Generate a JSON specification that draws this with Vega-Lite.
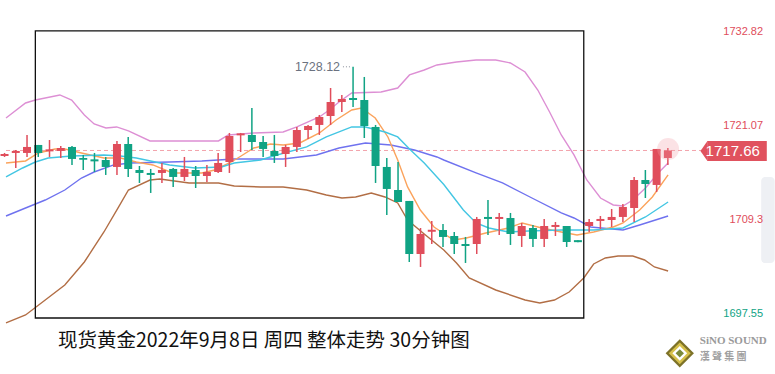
{
  "$schema": "https://vega.github.io/schema/vega-lite/v6.json",
  "width": 775,
  "height": 374,
  "autosize": {"type": "fit", "contains": "padding"},
  "padding": 0,
  "background": "white",
  "config": {"view": {"stroke": null}},
  "resolve": {"scale": {"color": "independent"}},
  "datasets": {
    "candles": [
      {"i":0,"o":1716.97,"h":1717.35,"l":1716.85,"c":1717.22,"dir":"up"},
      {"i":1,"o":1717.35,"h":1717.72,"l":1715.47,"c":1717.60,"dir":"up"},
      {"i":2,"o":1717.35,"h":1719.60,"l":1716.85,"c":1718.10,"dir":"up"},
      {"i":3,"o":1718.35,"h":1718.35,"l":1716.85,"c":1717.35,"dir":"down"},
      {"i":4,"o":1717.55,"h":1718.97,"l":1716.85,"c":1717.80,"dir":"up"},
      {"i":5,"o":1717.60,"h":1718.22,"l":1716.72,"c":1717.97,"dir":"up"},
      {"i":6,"o":1718.10,"h":1718.22,"l":1715.85,"c":1716.60,"dir":"down"},
      {"i":7,"o":1716.72,"h":1717.10,"l":1715.22,"c":1716.50,"dir":"down"},
      {"i":8,"o":1716.55,"h":1717.35,"l":1714.97,"c":1716.30,"dir":"down"},
      {"i":9,"o":1716.47,"h":1716.85,"l":1714.60,"c":1715.60,"dir":"down"},
      {"i":10,"o":1715.60,"h":1718.85,"l":1714.60,"c":1718.47,"dir":"up"},
      {"i":11,"o":1718.47,"h":1719.35,"l":1714.35,"c":1715.35,"dir":"down"},
      {"i":12,"o":1715.22,"h":1715.72,"l":1713.60,"c":1714.85,"dir":"down"},
      {"i":13,"o":1714.85,"h":1715.35,"l":1712.35,"c":1714.60,"dir":"down"},
      {"i":14,"o":1714.85,"h":1716.10,"l":1713.60,"c":1715.22,"dir":"up"},
      {"i":15,"o":1715.35,"h":1715.47,"l":1713.10,"c":1714.35,"dir":"down"},
      {"i":16,"o":1714.35,"h":1716.85,"l":1713.85,"c":1715.35,"dir":"up"},
      {"i":17,"o":1715.22,"h":1715.72,"l":1712.97,"c":1714.47,"dir":"down"},
      {"i":18,"o":1714.47,"h":1715.85,"l":1713.72,"c":1714.97,"dir":"up"},
      {"i":19,"o":1714.97,"h":1717.35,"l":1714.85,"c":1716.10,"dir":"up"},
      {"i":20,"o":1716.22,"h":1719.85,"l":1714.85,"c":1719.47,"dir":"up"},
      {"i":21,"o":1719.55,"h":1719.85,"l":1717.47,"c":1719.80,"dir":"up"},
      {"i":22,"o":1719.60,"h":1722.97,"l":1717.72,"c":1718.72,"dir":"down"},
      {"i":23,"o":1718.72,"h":1719.47,"l":1716.85,"c":1717.85,"dir":"down"},
      {"i":24,"o":1717.60,"h":1719.60,"l":1716.10,"c":1716.97,"dir":"down"},
      {"i":25,"o":1717.22,"h":1718.35,"l":1715.60,"c":1718.10,"dir":"up"},
      {"i":26,"o":1718.10,"h":1720.60,"l":1717.47,"c":1720.22,"dir":"up"},
      {"i":27,"o":1720.22,"h":1720.85,"l":1719.10,"c":1720.72,"dir":"up"},
      {"i":28,"o":1720.85,"h":1722.10,"l":1719.60,"c":1721.85,"dir":"up"},
      {"i":29,"o":1721.97,"h":1725.47,"l":1720.85,"c":1723.72,"dir":"up"},
      {"i":30,"o":1723.72,"h":1724.60,"l":1722.47,"c":1724.10,"dir":"up"},
      {"i":31,"o":1724.22,"h":1728.12,"l":1723.10,"c":1723.97,"dir":"down"},
      {"i":32,"o":1723.97,"h":1726.85,"l":1719.22,"c":1720.72,"dir":"down"},
      {"i":33,"o":1720.60,"h":1720.85,"l":1713.60,"c":1715.72,"dir":"down"},
      {"i":34,"o":1715.60,"h":1716.72,"l":1709.60,"c":1712.85,"dir":"down"},
      {"i":35,"o":1712.72,"h":1716.22,"l":1711.22,"c":1711.22,"dir":"down"},
      {"i":36,"o":1711.35,"h":1711.35,"l":1703.72,"c":1704.72,"dir":"down"},
      {"i":37,"o":1704.72,"h":1707.97,"l":1703.10,"c":1707.22,"dir":"up"},
      {"i":38,"o":1707.50,"h":1708.85,"l":1705.97,"c":1707.75,"dir":"up"},
      {"i":39,"o":1707.72,"h":1708.47,"l":1705.60,"c":1706.85,"dir":"down"},
      {"i":40,"o":1706.97,"h":1707.47,"l":1704.72,"c":1705.97,"dir":"down"},
      {"i":41,"o":1705.97,"h":1706.85,"l":1703.60,"c":1705.72,"dir":"down"},
      {"i":42,"o":1705.97,"h":1709.35,"l":1704.72,"c":1709.10,"dir":"up"},
      {"i":43,"o":1709.35,"h":1711.47,"l":1707.10,"c":1709.10,"dir":"down"},
      {"i":44,"o":1709.10,"h":1709.85,"l":1707.10,"c":1709.35,"dir":"up"},
      {"i":45,"o":1709.22,"h":1709.85,"l":1705.85,"c":1707.22,"dir":"down"},
      {"i":46,"o":1706.97,"h":1708.60,"l":1705.60,"c":1708.22,"dir":"up"},
      {"i":47,"o":1707.97,"h":1708.35,"l":1705.60,"c":1706.60,"dir":"down"},
      {"i":48,"o":1706.60,"h":1709.10,"l":1705.60,"c":1708.22,"dir":"up"},
      {"i":49,"o":1708.10,"h":1708.72,"l":1706.97,"c":1708.35,"dir":"up"},
      {"i":50,"o":1708.22,"h":1708.22,"l":1705.60,"c":1706.22,"dir":"down"},
      {"i":51,"o":1706.45,"h":1706.45,"l":1706.20,"c":1706.20,"dir":"down"},
      {"i":52,"o":1708.22,"h":1709.10,"l":1707.47,"c":1708.72,"dir":"up"},
      {"i":53,"o":1708.85,"h":1709.47,"l":1707.85,"c":1709.10,"dir":"up"},
      {"i":54,"o":1708.97,"h":1710.35,"l":1708.10,"c":1709.35,"dir":"up"},
      {"i":55,"o":1709.35,"h":1710.97,"l":1708.72,"c":1710.60,"dir":"up"},
      {"i":56,"o":1710.47,"h":1714.35,"l":1708.72,"c":1713.97,"dir":"up"},
      {"i":57,"o":1713.97,"h":1715.22,"l":1711.72,"c":1713.47,"dir":"down"},
      {"i":58,"o":1713.35,"h":1717.85,"l":1712.47,"c":1717.85,"dir":"up"},
      {"i":59,"o":1716.72,"h":1717.97,"l":1715.85,"c":1717.66,"dir":"up"}
    ],
    "lines": [
      {"s":"upper","i":0.13,"p":1721.72},{"s":"upper","i":1.87,"p":1723.60},{"s":"upper","i":2.74,"p":1723.97},{"s":"upper","i":4.92,"p":1724.60},{"s":"upper","i":5.97,"p":1723.97},{"s":"upper","i":7.10,"p":1722.10},{"s":"upper","i":7.97,"p":1720.97},{"s":"upper","i":9.02,"p":1720.47},{"s":"upper","i":9.97,"p":1720.60},{"s":"upper","i":11.02,"p":1720.10},{"s":"upper","i":12.94,"p":1718.85},{"s":"upper","i":19.03,"p":1718.85},{"s":"upper","i":19.90,"p":1719.60},{"s":"upper","i":22.17,"p":1719.85},{"s":"upper","i":24.78,"p":1719.97},{"s":"upper","i":26.00,"p":1720.60},{"s":"upper","i":28.00,"p":1721.85},{"s":"upper","i":28.88,"p":1722.72},{"s":"upper","i":29.75,"p":1723.72},{"s":"upper","i":30.88,"p":1724.85},{"s":"upper","i":33.49,"p":1724.97},{"s":"upper","i":34.97,"p":1725.47},{"s":"upper","i":36.02,"p":1727.10},{"s":"upper","i":37.33,"p":1727.72},{"s":"upper","i":38.46,"p":1728.35},{"s":"upper","i":40.20,"p":1728.72},{"s":"upper","i":41.94,"p":1728.97},{"s":"upper","i":43.69,"p":1728.97},{"s":"upper","i":44.99,"p":1728.60},{"s":"upper","i":46.30,"p":1727.47},{"s":"upper","i":47.43,"p":1725.22},{"s":"upper","i":48.48,"p":1722.47},{"s":"upper","i":49.52,"p":1719.60},{"s":"upper","i":50.65,"p":1717.10},{"s":"upper","i":51.79,"p":1713.97},{"s":"upper","i":53.01,"p":1711.72},{"s":"upper","i":54.14,"p":1710.85},{"s":"upper","i":55.01,"p":1710.72},{"s":"upper","i":55.88,"p":1711.47},{"s":"upper","i":57.01,"p":1712.97},{"s":"upper","i":58.23,"p":1714.97},{"s":"upper","i":59.02,"p":1716.10},
      {"s":"mid","i":0.13,"p":1709.47},{"s":"mid","i":1.87,"p":1710.47},{"s":"mid","i":3.62,"p":1711.47},{"s":"mid","i":5.36,"p":1712.72},{"s":"mid","i":6.84,"p":1714.22},{"s":"mid","i":7.97,"p":1714.97},{"s":"mid","i":9.71,"p":1715.85},{"s":"mid","i":11.19,"p":1716.10},{"s":"mid","i":14.68,"p":1716.22},{"s":"mid","i":17.55,"p":1716.35},{"s":"mid","i":20.43,"p":1716.60},{"s":"mid","i":24.78,"p":1716.60},{"s":"mid","i":27.74,"p":1717.10},{"s":"mid","i":29.75,"p":1717.97},{"s":"mid","i":32.10,"p":1718.60},{"s":"mid","i":34.36,"p":1718.35},{"s":"mid","i":36.46,"p":1717.72},{"s":"mid","i":38.46,"p":1716.85},{"s":"mid","i":39.07,"p":1716.47},{"s":"mid","i":41.94,"p":1714.85},{"s":"mid","i":44.29,"p":1713.60},{"s":"mid","i":46.91,"p":1711.72},{"s":"mid","i":49.52,"p":1709.85},{"s":"mid","i":50.65,"p":1709.22},{"s":"mid","i":52.13,"p":1708.10},{"s":"mid","i":55.01,"p":1707.72},{"s":"mid","i":56.49,"p":1708.35},{"s":"mid","i":59.02,"p":1709.47},
      {"s":"fast","i":0.13,"p":1716.10},{"s":"fast","i":1.87,"p":1716.35},{"s":"fast","i":3.01,"p":1717.35},{"s":"fast","i":4.49,"p":1717.85},{"s":"fast","i":5.36,"p":1717.85},{"s":"fast","i":6.84,"p":1717.35},{"s":"fast","i":8.84,"p":1716.72},{"s":"fast","i":10.32,"p":1716.72},{"s":"fast","i":11.72,"p":1716.22},{"s":"fast","i":13.20,"p":1715.85},{"s":"fast","i":14.94,"p":1714.85},{"s":"fast","i":17.55,"p":1714.85},{"s":"fast","i":18.69,"p":1715.22},{"s":"fast","i":20.17,"p":1716.22},{"s":"fast","i":21.04,"p":1716.97},{"s":"fast","i":22.17,"p":1717.97},{"s":"fast","i":23.65,"p":1718.47},{"s":"fast","i":24.78,"p":1718.35},{"s":"fast","i":26.26,"p":1718.60},{"s":"fast","i":28.01,"p":1719.85},{"s":"fast","i":29.49,"p":1721.47},{"s":"fast","i":30.88,"p":1722.72},{"s":"fast","i":31.75,"p":1722.97},{"s":"fast","i":32.97,"p":1721.72},{"s":"fast","i":34.10,"p":1719.35},{"s":"fast","i":34.97,"p":1716.47},{"s":"fast","i":35.85,"p":1713.10},{"s":"fast","i":36.98,"p":1710.22},{"s":"fast","i":38.20,"p":1708.10},{"s":"fast","i":39.94,"p":1706.47},{"s":"fast","i":41.07,"p":1706.72},{"s":"fast","i":42.81,"p":1707.35},{"s":"fast","i":44.82,"p":1707.97},{"s":"fast","i":46.04,"p":1708.60},{"s":"fast","i":47.78,"p":1707.97},{"s":"fast","i":49.52,"p":1707.47},{"s":"fast","i":50.92,"p":1707.10},{"s":"fast","i":52.40,"p":1707.47},{"s":"fast","i":54.14,"p":1708.10},{"s":"fast","i":55.01,"p":1708.60},{"s":"fast","i":56.49,"p":1710.22},{"s":"fast","i":57.62,"p":1711.85},{"s":"fast","i":59.02,"p":1714.60},
      {"s":"slow","i":0.13,"p":1714.35},{"s":"slow","i":1.61,"p":1715.47},{"s":"slow","i":2.74,"p":1716.22},{"s":"slow","i":3.88,"p":1716.72},{"s":"slow","i":5.97,"p":1716.97},{"s":"slow","i":8.84,"p":1717.10},{"s":"slow","i":10.32,"p":1716.97},{"s":"slow","i":11.72,"p":1716.72},{"s":"slow","i":14.68,"p":1715.85},{"s":"slow","i":16.94,"p":1715.47},{"s":"slow","i":19.29,"p":1715.60},{"s":"slow","i":20.43,"p":1716.10},{"s":"slow","i":22.78,"p":1716.47},{"s":"slow","i":23.91,"p":1716.97},{"s":"slow","i":26.87,"p":1718.10},{"s":"slow","i":28.62,"p":1719.35},{"s":"slow","i":30.88,"p":1720.60},{"s":"slow","i":32.10,"p":1720.60},{"s":"slow","i":33.84,"p":1719.97},{"s":"slow","i":34.97,"p":1719.35},{"s":"slow","i":36.11,"p":1717.72},{"s":"slow","i":37.33,"p":1716.10},{"s":"slow","i":38.46,"p":1714.35},{"s":"slow","i":39.07,"p":1713.40},{"s":"slow","i":40.81,"p":1710.22},{"s":"slow","i":41.94,"p":1708.60},{"s":"slow","i":43.08,"p":1707.97},{"s":"slow","i":44.82,"p":1707.47},{"s":"slow","i":46.56,"p":1707.60},{"s":"slow","i":49.52,"p":1707.72},{"s":"slow","i":52.40,"p":1707.72},{"s":"slow","i":55.01,"p":1707.97},{"s":"slow","i":57.01,"p":1709.35},{"s":"slow","i":59.02,"p":1711.22},
      {"s":"lower","i":0.13,"p":1696.10},{"s":"lower","i":1.87,"p":1697.10},{"s":"lower","i":3.62,"p":1698.97},{"s":"lower","i":5.36,"p":1700.85},{"s":"lower","i":7.10,"p":1703.72},{"s":"lower","i":8.84,"p":1707.47},{"s":"lower","i":10.15,"p":1710.60},{"s":"lower","i":11.02,"p":1712.72},{"s":"lower","i":12.94,"p":1713.97},{"s":"lower","i":13.81,"p":1714.10},{"s":"lower","i":16.42,"p":1713.60},{"s":"lower","i":19.03,"p":1713.60},{"s":"lower","i":20.43,"p":1713.22},{"s":"lower","i":22.78,"p":1713.10},{"s":"lower","i":24.78,"p":1713.10},{"s":"lower","i":26.87,"p":1712.72},{"s":"lower","i":28.62,"p":1712.10},{"s":"lower","i":30.01,"p":1711.72},{"s":"lower","i":31.23,"p":1711.85},{"s":"lower","i":32.62,"p":1712.35},{"s":"lower","i":33.84,"p":1711.85},{"s":"lower","i":34.97,"p":1711.10},{"s":"lower","i":35.85,"p":1708.97},{"s":"lower","i":37.33,"p":1707.22},{"s":"lower","i":39.07,"p":1705.22},{"s":"lower","i":40.20,"p":1703.60},{"s":"lower","i":41.33,"p":1701.72},{"s":"lower","i":43.69,"p":1700.22},{"s":"lower","i":46.30,"p":1698.97},{"s":"lower","i":47.61,"p":1698.60},{"s":"lower","i":48.91,"p":1698.97},{"s":"lower","i":50.22,"p":1699.97},{"s":"lower","i":51.52,"p":1701.72},{"s":"lower","i":52.40,"p":1703.47},{"s":"lower","i":53.44,"p":1704.22},{"s":"lower","i":54.57,"p":1704.47},{"s":"lower","i":55.88,"p":1704.47},{"s":"lower","i":56.93,"p":1703.97},{"s":"lower","i":57.80,"p":1703.10},{"s":"lower","i":59.02,"p":1702.60}
    ],
    "ylabels": [
      {"p":1732.82,"label":"1732.82","dir":"up"},
      {"p":1721.07,"label":"1721.07","dir":"up"},
      {"p":1709.3,"label":"1709.3","dir":"up"},
      {"p":1697.55,"label":"1697.55","dir":"down"}
    ],
    "box": [{"x1":2.74,"x2":51.52,"top":1732.6,"bottom":1696.72}],
    "logo": [{"k":"a","s":800,"c":"#7d7228"},{"k":"b","s":480,"c":"#d6c04a"},{"k":"c","s":220,"c":"#ffffff"},{"k":"d","s":70,"c":"#7a8a3a"}]
  },
  "layer": [
    {
      "data": {"values": [{}]},
      "mark": {"type": "rect", "fill": "#eef0f4", "cornerRadius": 4},
      "encoding": {
        "x": {"datum": 67.3, "type": "quantitative", "scale": {"domain": [0.13, 67.64], "nice": false, "zero": false}, "axis": null},
        "x2": {"datum": 68.5},
        "y": {"datum": 1714.35, "type": "quantitative", "scale": {"domain": [1689.72, 1736.47], "nice": false, "zero": false}, "axis": null},
        "y2": {"datum": 1703.6}
      }
    },
    {
      "data": {"values": [{}]},
      "mark": {"type": "rule", "stroke": "#f3a3ab", "strokeWidth": 1, "strokeDash": [4, 3]},
      "encoding": {
        "x": {"datum": 0.13, "type": "quantitative", "scale": {"domain": [0.13, 67.64], "nice": false, "zero": false}, "axis": null},
        "x2": {"datum": 62.4},
        "y": {"datum": 1717.66, "type": "quantitative", "scale": {"domain": [1689.72, 1736.47], "nice": false, "zero": false}, "axis": null}
      }
    },
    {
      "data": {"name": "lines"},
      "mark": {"type": "line", "strokeWidth": 1.4, "interpolate": "linear"},
      "encoding": {
        "x": {"field": "i", "type": "quantitative", "scale": {"domain": [0.13, 67.64], "nice": false, "zero": false}, "axis": null},
        "y": {"field": "p", "type": "quantitative", "scale": {"domain": [1689.72, 1736.47], "nice": false, "zero": false}, "axis": null},
        "order": {"field": "i"},
        "color": {"field": "s", "type": "nominal", "legend": null,
          "scale": {"domain": ["upper", "mid", "fast", "slow", "lower"], "range": ["#dd8fd4", "#6f72ef", "#fba35c", "#43c6e3", "#b26e45"]}}
      }
    },
    {
      "data": {"name": "candles"},
      "mark": {"type": "rule", "strokeWidth": 1.5},
      "encoding": {
        "x": {"field": "i", "type": "quantitative", "scale": {"domain": [0.13, 67.64], "nice": false, "zero": false}, "axis": null},
        "y": {"field": "l", "type": "quantitative", "scale": {"domain": [1689.72, 1736.47], "nice": false, "zero": false}, "axis": null},
        "y2": {"field": "h"},
        "color": {"field": "dir", "type": "nominal", "legend": null, "scale": {"domain": ["up", "down"], "range": ["#e04d5b", "#10a384"]}}
      }
    },
    {
      "data": {"name": "candles"},
      "mark": {"type": "bar", "width": 8},
      "encoding": {
        "x": {"field": "i", "type": "quantitative", "scale": {"domain": [0.13, 67.64], "nice": false, "zero": false}, "axis": null},
        "y": {"field": "o", "type": "quantitative", "scale": {"domain": [1689.72, 1736.47], "nice": false, "zero": false}, "axis": null},
        "y2": {"field": "c"},
        "color": {"field": "dir", "type": "nominal", "legend": null, "scale": {"domain": ["up", "down"], "range": ["#e04d5b", "#10a384"]}}
      }
    },
    {
      "data": {"values": [{}]},
      "mark": {"type": "point", "filled": true, "size": 480, "color": "#f2a0aa", "opacity": 0.3},
      "encoding": {
        "x": {"datum": 59.02, "type": "quantitative", "scale": {"domain": [0.13, 67.64], "nice": false, "zero": false}, "axis": null},
        "y": {"datum": 1717.85, "type": "quantitative", "scale": {"domain": [1689.72, 1736.47], "nice": false, "zero": false}, "axis": null}
      }
    },
    {
      "data": {"name": "box"},
      "mark": {"type": "rect", "fill": null, "fillOpacity": 0, "stroke": "#111111", "strokeWidth": 1.3},
      "encoding": {
        "x": {"field": "x1", "type": "quantitative", "scale": {"domain": [0.13, 67.64], "nice": false, "zero": false}, "axis": null},
        "x2": {"field": "x2"},
        "y": {"field": "top", "type": "quantitative", "scale": {"domain": [1689.72, 1736.47], "nice": false, "zero": false}, "axis": null},
        "y2": {"field": "bottom"}
      }
    },
    {
      "data": {"values": [{}]},
      "mark": {"type": "text", "text": "1728.12", "align": "right", "baseline": "middle", "font": "Liberation Sans", "fontSize": 12.5, "color": "#6b7280", "dx": -13},
      "encoding": {
        "x": {"datum": 31, "type": "quantitative", "scale": {"domain": [0.13, 67.64], "nice": false, "zero": false}, "axis": null},
        "y": {"datum": 1728.12, "type": "quantitative", "scale": {"domain": [1689.72, 1736.47], "nice": false, "zero": false}, "axis": null}
      }
    },
    {
      "data": {"values": [{}]},
      "mark": {"type": "rule", "stroke": "#8a8f99", "strokeWidth": 1, "strokeDash": [1, 2]},
      "encoding": {
        "x": {"datum": 30.1, "type": "quantitative", "scale": {"domain": [0.13, 67.64], "nice": false, "zero": false}, "axis": null},
        "x2": {"datum": 30.85},
        "y": {"datum": 1728.12, "type": "quantitative", "scale": {"domain": [1689.72, 1736.47], "nice": false, "zero": false}, "axis": null}
      }
    },
    {
      "data": {"values": [{}]},
      "mark": {"type": "rect", "fill": "#e0525e"},
      "encoding": {
        "x": {"datum": 62.5, "type": "quantitative", "scale": {"domain": [0.13, 67.64], "nice": false, "zero": false}, "axis": null},
        "x2": {"datum": 67.8},
        "y": {"datum": 1718.85, "type": "quantitative", "scale": {"domain": [1689.72, 1736.47], "nice": false, "zero": false}, "axis": null},
        "y2": {"datum": 1716.35}
      }
    },
    {
      "data": {"values": [{}]},
      "mark": {"type": "point", "filled": true, "shape": "M -0.7 0 L 0 -1 L 0 1 Z", "size": 400, "color": "#e0525e", "opacity": 1},
      "encoding": {
        "x": {"datum": 62.52, "type": "quantitative", "scale": {"domain": [0.13, 67.64], "nice": false, "zero": false}, "axis": null},
        "y": {"datum": 1717.6, "type": "quantitative", "scale": {"domain": [1689.72, 1736.47], "nice": false, "zero": false}, "axis": null}
      }
    },
    {
      "data": {"values": [{}]},
      "mark": {"type": "text", "text": "1717.66", "align": "center", "baseline": "middle", "font": "Liberation Sans", "fontSize": 15, "color": "white"},
      "encoding": {
        "x": {"datum": 64.77, "type": "quantitative", "scale": {"domain": [0.13, 67.64], "nice": false, "zero": false}, "axis": null},
        "y": {"datum": 1717.6, "type": "quantitative", "scale": {"domain": [1689.72, 1736.47], "nice": false, "zero": false}, "axis": null}
      }
    },
    {
      "data": {"name": "ylabels"},
      "mark": {"type": "text", "align": "right", "baseline": "middle", "font": "Liberation Sans", "fontSize": 11, "dy": 3},
      "encoding": {
        "x": {"datum": 67.47, "type": "quantitative", "scale": {"domain": [0.13, 67.64], "nice": false, "zero": false}, "axis": null},
        "y": {"field": "p", "type": "quantitative", "scale": {"domain": [1689.72, 1736.47], "nice": false, "zero": false}, "axis": null},
        "text": {"field": "label"},
        "color": {"field": "dir", "type": "nominal", "legend": null, "scale": {"domain": ["up", "down"], "range": ["#e04d5b", "#10a384"]}}
      }
    },
    {
      "data": {"values": [{}]},
      "mark": {"type": "text", "text": "现货黄金2022年9月8日 周四 整体走势 30分钟图", "align": "left", "baseline": "middle", "font": "Noto Sans CJK SC", "fontSize": 19.5, "color": "#111111"},
      "encoding": {
        "x": {"datum": 4.75, "type": "quantitative", "scale": {"domain": [0.13, 67.64], "nice": false, "zero": false}, "axis": null},
        "y": {"datum": 1693.85, "type": "quantitative", "scale": {"domain": [1689.72, 1736.47], "nice": false, "zero": false}, "axis": null}
      }
    },
    {
      "data": {"name": "logo"},
      "mark": {"type": "point", "filled": true, "shape": "diamond", "opacity": 1},
      "encoding": {
        "x": {"datum": 60.06, "type": "quantitative", "scale": {"domain": [0.13, 67.64], "nice": false, "zero": false}, "axis": null},
        "y": {"datum": 1692.3, "type": "quantitative", "scale": {"domain": [1689.72, 1736.47], "nice": false, "zero": false}, "axis": null},
        "size": {"field": "s", "type": "quantitative", "scale": null, "legend": null},
        "color": {"field": "c", "type": "nominal", "scale": null, "legend": null},
        "order": {"field": "s", "sort": "descending"}
      }
    },
    {
      "data": {"values": [{}]},
      "mark": {"type": "text", "text": "SiNO SOUND", "align": "left", "baseline": "middle", "font": "Liberation Sans Narrow", "fontWeight": "bold", "fontSize": 11, "color": "#9a9a9a"},
      "encoding": {
        "x": {"datum": 61.84, "type": "quantitative", "scale": {"domain": [0.13, 67.64], "nice": false, "zero": false}, "axis": null},
        "y": {"datum": 1693.9, "type": "quantitative", "scale": {"domain": [1689.72, 1736.47], "nice": false, "zero": false}, "axis": null}
      }
    },
    {
      "data": {"values": [{}]},
      "mark": {"type": "text", "text": "漢  聲  集  團", "align": "left", "baseline": "middle", "font": "Noto Sans CJK TC", "fontWeight": "bold", "fontSize": 10, "color": "#a0a0a0"},
      "encoding": {
        "x": {"datum": 61.84, "type": "quantitative", "scale": {"domain": [0.13, 67.64], "nice": false, "zero": false}, "axis": null},
        "y": {"datum": 1691.85, "type": "quantitative", "scale": {"domain": [1689.72, 1736.47], "nice": false, "zero": false}, "axis": null}
      }
    }
  ]
}
